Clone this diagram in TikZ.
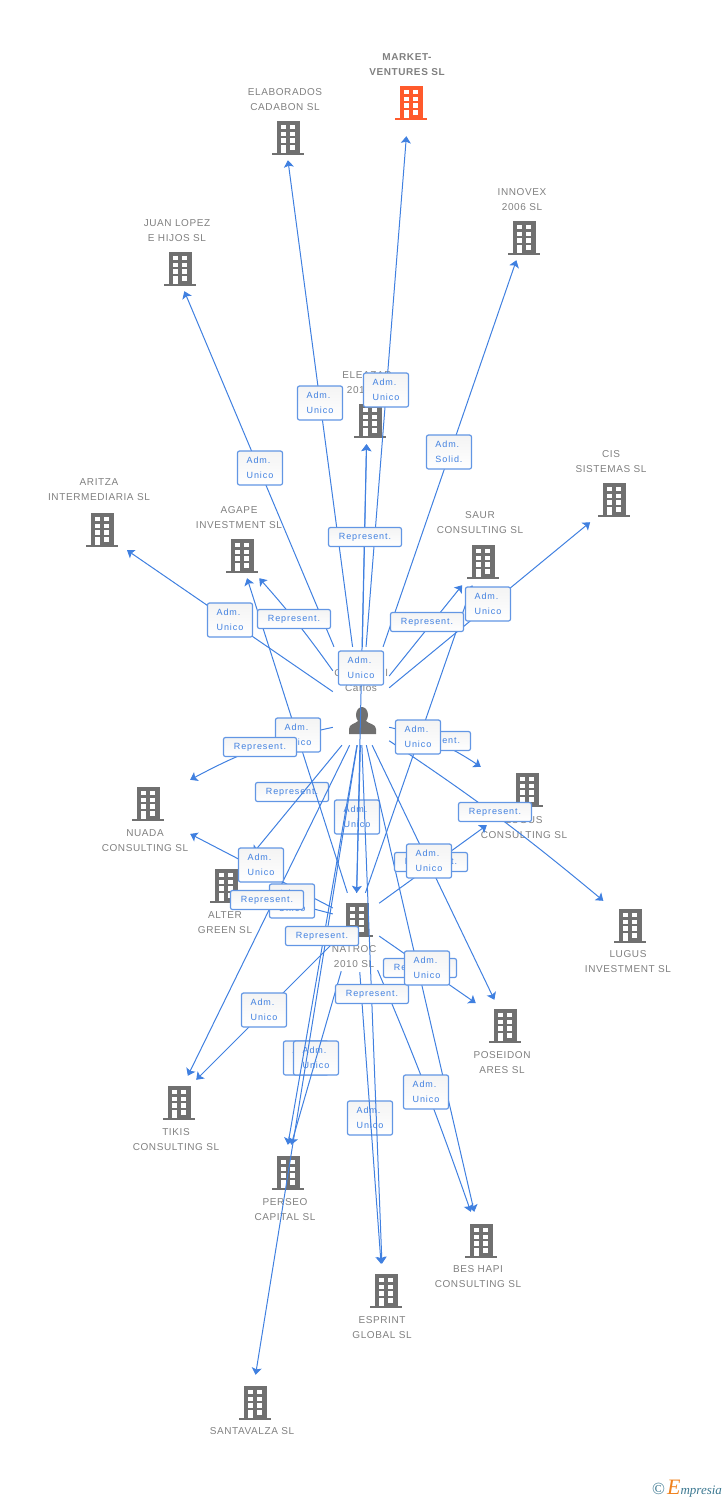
\documentclass[tikz,border=0pt]{standalone}
\usepackage{fontspec}
\usetikzlibrary{positioning}
\usetikzlibrary{arrows.meta}
\newfontfamily\firmfont[LetterSpace=6]{Liberation Sans}
\newfontfamily\boxfont[LetterSpace=10]{Liberation Sans}
\newfontfamily\logofont{Liberation Serif}
\definecolor{linkblue}{RGB}{64,128,224}
\definecolor{boxblue}{RGB}{98,150,228}
\definecolor{firmgray}{RGB}{112,112,112}
\definecolor{textgray}{RGB}{128,128,128}
\definecolor{firmorange}{RGB}{255,90,44}
\definecolor{logoteal}{RGB}{60,120,145}
\definecolor{logoorange}{RGB}{240,130,30}
\tikzset{
	building/.pic={
		\fill [pic actions] (-11,-17) rectangle (12,15);
		\fill [pic actions] (-16,14.5) rectangle (16,17);
		\foreach \wy in {-13,-6.3,0.3} {
			\fill [white] (-7,\wy) rectangle (-2.5,\wy+4.4);
			\fill [white] (2,\wy) rectangle (7,\wy+4.4);
		}
		\fill [white] (-7,7) rectangle (-2.5,14.5);
		\fill [white] (2,7) rectangle (7,11.5);
	},
	firmtext/.style={text=textgray, align=center, inner sep=0pt, font=\firmfont\fontsize{10}{15}\selectfont},
	linkframe/.style 2 args={inner sep=0pt, minimum width=#1, minimum height=#2},
	link/.style={linkblue, line width=1pt, -{Stealth[length=7pt,width=10pt,inset=1.5pt]}},
	rolebox/.style={draw=boxblue, line width=1.2pt, rounded corners=2pt, top color=gray!9, bottom color=white,
		text=linkblue, inner sep=0pt, font=\boxfont\fontsize{9}{15}\selectfont},
	admbox/.style={rolebox, minimum width=45pt, minimum height=34pt, align=left},
	repbox/.style={rolebox, minimum width=73pt, minimum height=19pt},
}
% building and its label
\newcommand{\firm}[6][firmgray]{
	\pic [fill=#1] at (#2,#3) {building};
	\node [firmtext] (#6) at (#4,#5) 
}
\begin{document}
\begin{tikzpicture}[x=1pt,y=-1pt]
	\useasboundingbox (0,0) rectangle (728,1500);

	\firm[firmorange]{411}{103}{407}{64.5}{market-l} {\bfseries MARKET-\\\bfseries VENTURES SL};
	\firm{288}{138}{285}{99.5}{elaborados-l} {ELABORADOS\\CADABON SL};
	\firm{180}{269}{177}{230.5}{juan-l} {JUAN LOPEZ\\E HIJOS SL};
	\firm{524}{238}{522}{199.5}{innovex-l} {INNOVEX\\2006 SL};
	\firm{370}{421}{367}{382.5}{eleazar-l} {ELEAZAR\\2010 SL};
	\firm{102}{530}{99}{489.5}{aritza-l} {ARITZA\\INTERMEDIARIA SL};
	\firm{242}{556}{239}{517.5}{agape-l} {AGAPE\\INVESTMENT SL};
	\firm{483}{562}{480}{522.5}{saur-l} {SAUR\\CONSULTING SL};
	\firm{614}{500}{611}{461.5}{cis-l} {CIS\\SISTEMAS SL};
	\firm{148}{804}{145}{840.5}{nuada-l} {NUADA\\CONSULTING SL};
	\firm{527}{790}{524}{827.5}{lugus-l} {LUGUS\\CONSULTING SL};
	\firm{226}{886}{225}{922.5}{alter-l} {ALTER\\GREEN SL};
	\firm{357}{920}{354}{956.5}{natroc-l} {NATROC\\2010 SL};
	\firm{630}{926}{628}{961.5}{lugusinv-l} {LUGUS\\INVESTMENT SL};
	\firm{505}{1026}{502}{1062.5}{poseidon-l} {POSEIDON\\ARES SL};
	\firm{179}{1103}{176}{1139.5}{tikis-l} {TIKIS\\CONSULTING SL};
	\firm{288}{1173}{285}{1209.5}{perseo-l} {PERSEO\\CAPITAL SL};
	\firm{481}{1241}{478}{1276.5}{beshapi-l} {BES HAPI\\CONSULTING SL};
	\firm{386}{1291}{382}{1327.5}{esprint-l} {ESPRINT\\GLOBAL SL};
	\firm{255}{1403}{252}{1431}{santavalza-l} {SANTAVALZA SL};

	% person
	\fill [firmgray] (362,715) ellipse (6 and 8);
	\fill [firmgray] (349,734) -- (349,729) .. controls (349,724) and (355,724) .. (358,721) -- (366,721) .. controls (369,724) and (376,724) .. (376,729) -- (376,734) -- cycle;
	\node [firmtext] (person-l) at (361,673) {S\hspace{44pt}\\C\hspace{44pt}l\\Carlos};

	% frames the links stop at
	\node [linkframe={56pt}{128pt}] (person-up) at (361,711) {};
	\node [linkframe={56pt}{46pt}] (person-dn) at (361,722) {};
	\node [linkframe={46pt}{54pt}] (natroc) at (356,920) {};
	\node [linkframe={40pt}{66pt}] (market) at (409,103) {};
	\node [linkframe={40pt}{44pt}] (elaborados) at (285,138) {};
	\node [linkframe={40pt}{44pt}] (innovex) at (524,238) {};
	\node [linkframe={40pt}{44pt}] (juan) at (175,269) {};
	\node [linkframe={40pt}{44pt}] (eleazar) at (367,422) {};
	\node [linkframe={60pt}{34pt}] (aritza) at (102,533) {};
	\node [linkframe={40pt}{44pt}] (agape) at (240,556) {};
	\node [linkframe={40pt}{44pt}] (saur) at (480,563) {};
	\node [linkframe={60pt}{44pt}] (cis) at (617,500) {};
	\node [linkframe={84pt}{64pt}] (nuada) at (148,812) {};
	\node [linkframe={92pt}{58pt}] (lugus) at (527,796) {};
	\node [linkframe={54pt}{72pt}] (alter) at (226,886) {};
	\node [linkframe={60pt}{44pt}] (lugusinv) at (630,923) {};
	\node [linkframe={60pt}{48pt}] (poseidon) at (506,1024) {};
	\node [linkframe={40pt}{48pt}] (tikis) at (176,1100) {};
	\node [linkframe={40pt}{56pt}] (perseo) at (283,1173) {};
	\node [linkframe={40pt}{58pt}] (beshapi) at (481,1241) {};
	\node [linkframe={40pt}{54pt}] (esprint) at (383,1291) {};
	\node [linkframe={40pt}{56pt}] (santavalza) at (251,1403) {};

	% boxes the links run over
	\node [admbox] (adm-natroc) at (357,817) {Adm.\\Unico};
	\node [admbox] (adm-esprint) at (370,1118) {Adm.\\Unico};
	\node [admbox] (adm-santa) at (306,1058) {Adm.\\Unico};
	\node [admbox] (adm-perseo) at (316,1058) {Adm.\\Unico};
	\node [repbox] (rep-alter) at (292,792) {Represent.};

	\draw [link] (person-up) to (market);
	\draw [link] (person-up) to (elaborados);
	\draw [link] (person-up) to (innovex);
	\draw [link] (person-up) to (juan);
	\draw [link] (person-up) to (eleazar);
	\draw [link] (natroc) to (eleazar);
	\draw [link] (person-up) to (cis);
	\draw [link] (person-up) to (saur);
	\draw [link] (natroc) to (saur);
	\draw [link] (person-up) to (aritza);
	\draw [link] (person-up) to[bend right=3] (agape);
	\draw [link] (natroc) to (agape);
	\draw [link] (person-dn) to[bend right=8] (nuada.north east);
	\draw [link] (person-dn) to[bend left=10] (lugus.north west);
	\draw [link] (person-dn) to[bend left=3] (lugusinv);
	\draw [link] (natroc) to (nuada);
	\draw [link] (natroc) to (alter);
	\draw [link] (person-dn) to (alter);
	\draw [link] (person-dn) to (tikis);
	\draw [link] (natroc) to (tikis);
	\draw [link] (person-dn) to (santavalza);
	\draw [link] (person-dn) to (perseo);
	\draw [link, shorten <=25pt] (natroc) to (perseo);
	\draw [link] (person-dn) to (natroc);
	\draw [link] (person-dn) to (esprint);
	\draw [link, shorten <=25pt] (natroc) to (esprint);
	\draw [link, shorten <=25pt] (natroc) to[bend left=2] (beshapi);
	\draw [link] (person-dn) to (beshapi);
	\draw [link] (person-dn) to (poseidon);
	\draw [link] (natroc) to (poseidon);
	\draw [link] (natroc) to (lugus);

	% boxes on top
	\node [admbox] (adm-market) at (386,390) {Adm.\\Unico};
	\node [admbox] (adm-elaborados) at (320,403) {Adm.\\Unico};
	\node [admbox] (adm-innovex) at (449,452) {Adm.\\Solid.};
	\node [admbox] (adm-juan) at (260,468) {Adm.\\Unico};
	\node [repbox] (rep-eleazar) at (365,537) {Represent.};
	\node [admbox] (adm-eleazar) at (361,668) {Adm.\\Unico};
	\node [admbox] (adm-cis) at (488,604) {Adm.\\Unico};
	\node [repbox] (rep-saur) at (427,622) {Represent.};
	\node [repbox] (rep-lugus) at (434,741) {Represent.};
	\node [admbox] (adm-saur) at (418,737) {Adm.\\Unico};
	\node [admbox] (adm-aritza) at (230,620) {Adm.\\Unico};
	\node [repbox] (rep-agape) at (294,619) {Represent.};
	\node [admbox] (adm-agape) at (298,735) {Adm.\\Unico};
	\node [repbox] (rep-nuada) at (260,747) {Represent.};
	\node [repbox] (rep-lugusinv) at (495,812) {Represent.};
	\node [admbox] (adm-nuada) at (261,865) {Adm.\\Unico};
	\node [admbox] (adm-alter) at (292,901) {Adm.\\Unico};
	\node [repbox] (rep-tikis) at (267,900) {Represent.};
	\node [admbox] (adm-tikis) at (264,1010) {Adm.\\Unico};
	\node [repbox] (rep-perseo) at (322,936) {Represent.};
	\node [repbox] (rep-esprint) at (372,994) {Represent.};
	\node [admbox] (adm-beshapi) at (426,1092) {Adm.\\Unico};
	\node [repbox] (rep-poseidon) at (420,968) {Represent.};
	\node [admbox] (adm-beshapi2) at (427,968) {Adm.\\Unico};
	\node [repbox] (rep-natroc) at (431,862) {Represent.};
	\node [admbox] (adm-poseidon) at (429,861) {Adm.\\Unico};

	\node [inner sep=0pt, text=logoteal, font=\logofont\itshape\fontsize{13}{13}\selectfont] (logo) at (687,1489) {{\upshape\fontsize{17}{17}\selectfont\textcopyright}\,\textcolor{logoorange}{\fontsize{22}{22}\selectfont E}mpresia};
\end{tikzpicture}
\end{document}
